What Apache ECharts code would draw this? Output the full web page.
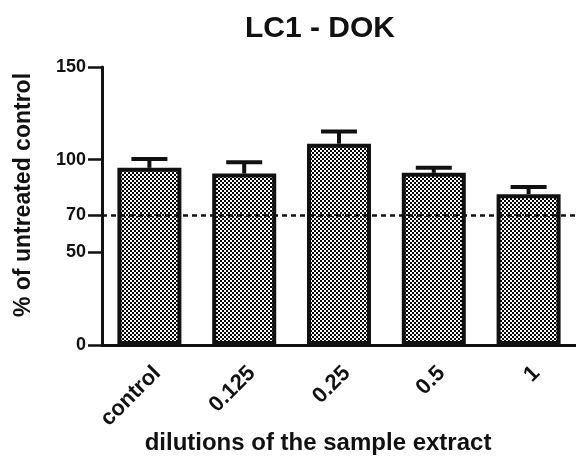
<!DOCTYPE html>
<html>
<head>
<meta charset="utf-8">
<script src="https://cdn.jsdelivr.net/npm/echarts@6/dist/echarts.min.js"></script>
<style>
    html, body { margin: 0; padding: 0; background: #fff; }
    #chart { width: 576px; height: 459px; }
</style>
</head>
<body>
<div id="chart"></div>
<script>
var categories = ['control', '0.125', '0.25', '0.5', '1'];
var means = [95.6, 92.5, 108.6, 92.9, 81.4];
var sems = [4.7, 6.1, 6.6, 2.7, 3.9];
var yTicks = [0, 50, 70, 100, 150];
var threshold = 70;

// checker fill like the GraphPad pattern
function checker() {
    var c = document.createElement('canvas');
    c.width = 4;
    c.height = 4;
    var ctx = c.getContext('2d');
    ctx.fillStyle = '#ffffff';
    ctx.fillRect(0, 0, 4, 4);
    ctx.fillStyle = '#000000';
    ctx.fillRect(0, 0, 2, 2);
    ctx.fillRect(2, 2, 2, 2);
    return c;
}

var errData = [];
for (var i = 0; i < means.length; i++) {
    errData.push([i, means[i], means[i] + sems[i]]);
}

var font = 'Liberation Sans, Arial, sans-serif';
var chart = echarts.init(document.getElementById('chart'));
chart.setOption({
    animation: false,
    title: {
        text: 'LC1 - DOK',
        left: 315,
        top: 9,
        textAlign: 'center',
        textStyle: {fontFamily: font, fontWeight: 'bold', fontSize: 30, color: '#111'}
    },
    grid: {left: 102, top: 67, width: 482, height: 278},
    xAxis: {
        type: 'category',
        data: categories,
        axisLine: {lineStyle: {color: '#111', width: 3}},
        axisTick: {alignWithLabel: true, length: 9, lineStyle: {color: '#111', width: 3}},
        axisLabel: {
            rotate: 45,
            margin: 17,
            verticalAlign: 'top',
            fontFamily: font,
            fontWeight: 'bold',
            fontSize: 22,
            color: '#111'
        }
    },
    yAxis: {
        type: 'value',
        min: 0,
        max: 150,
        splitLine: {show: false},
        axisLine: {show: true, lineStyle: {color: '#111', width: 3}},
        axisTick: {show: true, length: 14, customValues: yTicks, lineStyle: {color: '#111', width: 2.5}},
        axisLabel: {
            customValues: yTicks,
            margin: 16,
            fontFamily: font,
            fontWeight: 'bold',
            fontSize: 18,
            color: '#111'
        }
    },
    graphic: [
        {
            type: 'text',
            x: 318,
            y: 443,
            style: {
                text: 'dilutions of the sample extract',
                font: 'bold 24px Liberation Sans, Arial, sans-serif',
                fill: '#111',
                textAlign: 'center',
                textVerticalAlign: 'middle'
            }
        },
        {
            type: 'text',
            x: 24,
            y: 195,
            rotation: Math.PI / 2,
            style: {
                text: '% of untreated control',
                font: 'bold 23px Liberation Sans, Arial, sans-serif',
                fill: '#111',
                textAlign: 'center',
                textVerticalAlign: 'middle'
            }
        }
    ],
    series: [
        {
            type: 'line',
            z: 1,
            data: [],
            symbol: 'none',
            markLine: {
                silent: true,
                symbol: 'none',
                label: {show: false},
                lineStyle: {color: '#111', type: [5, 4], width: 2.5},
                data: [{yAxis: threshold}]
            }
        },
        {
            type: 'bar',
            z: 2,
            data: means,
            barWidth: 64,
            itemStyle: {
                color: {image: checker(), repeat: 'repeat'},
                borderColor: '#111',
                borderWidth: 4
            }
        },
        {
            type: 'custom',
            z: 3,
            data: errData,
            renderItem: function(params, api) {
                var x = api.value(0);
                var base = api.coord([x, api.value(1)]);
                var top = api.coord([x, api.value(2)]);
                var half = 18;
                return {
                    type: 'group',
                    children: [
                        {
                            type: 'line',
                            shape: {x1: base[0], y1: base[1], x2: top[0], y2: top[1]},
                            style: {stroke: '#111', lineWidth: 4}
                        },
                        {
                            type: 'line',
                            shape: {x1: top[0] - half, y1: top[1], x2: top[0] + half, y2: top[1]},
                            style: {stroke: '#111', lineWidth: 4}
                        }
                    ]
                };
            }
        }
    ]
});
</script>
</body>
</html>
